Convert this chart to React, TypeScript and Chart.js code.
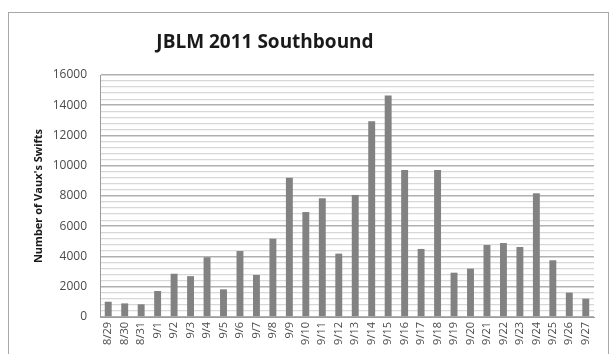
import React, { useEffect, useRef } from "react";
import { Chart, registerables } from "chart.js";

Chart.register(...registerables);

const chartTitle = "JBLM 2011 Southbound";
const yAxisTitle = "Number of Vaux's Swifts";
const categories = [
  "8/29", "8/30", "8/31", "9/1", "9/2", "9/3", "9/4", "9/5", "9/6", "9/7",
  "9/8", "9/9", "9/10", "9/11", "9/12", "9/13", "9/14", "9/15", "9/16", "9/17",
  "9/18", "9/19", "9/20", "9/21", "9/22", "9/23", "9/24", "9/25", "9/26", "9/27",
];
const swiftCounts = [
  1010, 900, 840, 1720, 2860, 2700, 3950, 1830, 4360, 2780,
  5180, 9210, 6940, 7850, 4190, 8070, 12940, 14640, 9720, 4500,
  9720, 2930, 3200, 4760, 4890, 4630, 8180, 3750, 1610, 1210,
];
const yMax = 16000;
const yStep = 400;
const yLabelStep = 2000;

const titlePlugin = {
  id: "customTitle",
  afterDraw(chart: any) {
    const ctx = chart.ctx;
    ctx.save();
    ctx.font = "bold 19px 'Open Sans', sans-serif";
    ctx.fillStyle = "#1a1a1a";
    ctx.textAlign = "center";
    ctx.textBaseline = "middle";
    ctx.fillText(chartTitle, 265, 43);
    ctx.restore();
  },
};

export default function App() {
  const ref = useRef<HTMLCanvasElement>(null);
  useEffect(() => {
    if (!ref.current) return;
    const chart = new Chart(ref.current, {
      type: "bar",
      data: {
        labels: categories,
        datasets: [
          {
            data: swiftCounts,
            backgroundColor: "#828282",
            borderWidth: 0,
            barPercentage: 0.42,
            categoryPercentage: 1,
          },
        ],
      },
      plugins: [titlePlugin],
      options: {
        animation: false,
        responsive: false,
        maintainAspectRatio: false,
        layout: { padding: { top: 75, right: 17, left: 0, bottom: 0 } },
        plugins: {
          legend: { display: false },
          tooltip: { enabled: false },
          title: { display: false },
        },
        scales: {
          x: {
            grid: { display: false, drawTicks: false },
            border: { color: "#9a9a9a", width: 1 },
            ticks: {
              color: "#4a4a4a",
              font: { family: "'Open Sans', sans-serif", size: 11 },
              minRotation: 90,
              maxRotation: 90,
              autoSkip: false,
              padding: 5,
            },
            afterFit(scale: any) {
              scale.height = 37;
            },
          },
          y: {
            min: 0,
            max: yMax,
            grid: {
              drawTicks: false,
              color: (c: any) =>
                c.tick && c.tick.value % yLabelStep === 0 ? "#b0b0b0" : "#d8d8d8",
              lineWidth: (c: any) =>
                c.tick && c.tick.value % yLabelStep === 0 ? 1.6 : 1.3,
            },
            border: { color: "#9a9a9a", width: 1 },
            ticks: {
              stepSize: yStep,
              autoSkip: false,
              color: "#4a4a4a",
              padding: 13,
              font: { family: "'Open Sans', sans-serif", size: 12 },
              callback: (v: any) => (Number(v) % yLabelStep === 0 ? String(v) : ""),
            },
            title: {
              display: true,
              text: yAxisTitle,
              color: "#1a1a1a",
              font: { family: "'Open Sans', sans-serif", size: 11, weight: "bold" },
              padding: { top: 32, bottom: 0 },
            },
            afterFit(scale: any) {
              scale.width = 100;
            },
          },
        },
      },
    });
    return () => chart.destroy();
  }, []);

  return (
    <div
      style={{
        position: "fixed",
        left: 0,
        top: 0,
        width: 611,
        height: 354,
        overflow: "hidden",
        background: "#fff",
      }}
    >
      <div
        style={{
          position: "absolute",
          left: 8,
          top: 12,
          width: 601,
          height: 400,
          border: "1px solid #a8a8a8",
          boxSizing: "border-box",
        }}
      />
      <canvas
        ref={ref}
        width={611}
        height={354}
        style={{ position: "absolute", left: 0, top: 0, width: 611, height: 354 }}
      />
    </div>
  );
}
